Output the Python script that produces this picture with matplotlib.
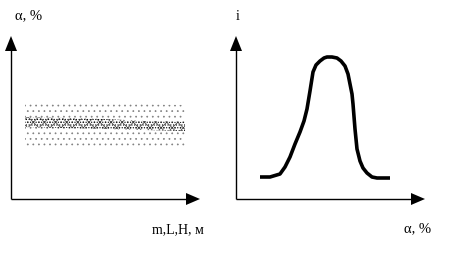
import matplotlib
matplotlib.use("Agg")
import matplotlib.pyplot as plt

plt.rcParams['font.family'] = ['Liberation Serif', 'DejaVu Serif']
plt.rcParams['hatch.linewidth'] = 0.5

# Left panel: scatter band of alpha vs m,L,H (schematic)
band_x = [14, 54, 94, 134, 174]
band_low = [52, 52, 53, 53, 53]
band_high = [96, 96, 95, 95, 94]
core_low = [72, 71, 70, 69, 68]
core_high = [82, 81, 80, 78, 77]

# Right panel: distribution curve i(alpha)
curve_x = [24, 34, 44, 49, 54, 59, 64, 68, 71, 74, 77, 80, 84, 88, 91, 96, 101, 105, 109, 112, 114, 116, 117, 119, 121, 124, 127, 131, 136, 141, 154]
curve_y = [22, 22, 25, 32, 42, 55, 67, 78, 90, 108, 127, 134, 138, 141, 142, 142, 141, 138, 133, 125, 115, 105, 95, 70, 50, 38, 31, 26, 22, 21, 21]

left_label = "α, %"
left_xlabel = "m,L,H, м"
right_label = "i"
right_xlabel = "α, %"

fig = plt.figure(figsize=(4.53, 2.55), dpi=100)

def make_axes(x0, xmax):
    W, H = 453, 255
    ax = fig.add_axes([x0 / W, (H - 200) / H, xmax / W, 175 / H])
    ax.set_xlim(0, xmax)
    ax.set_ylim(0, 175)
    ax.axis('off')
    return ax

def draw_axes_arrows(ax, xtip, ytip):
    ax.plot([0, xtip - 12], [0, 0], color='black', lw=1.0, solid_capstyle='butt', clip_on=False)
    ax.plot([0, 0], [0, ytip - 12], color='black', lw=1.0, solid_capstyle='butt', clip_on=False)
    ax.fill([xtip - 14, xtip, xtip - 14], [-6, 0, 6], color='black', lw=0, clip_on=False)
    ax.fill([-6, 0, 6], [ytip - 15, ytip, ytip - 15], color='black', lw=0, clip_on=False)

axL = make_axes(11, 200)
draw_axes_arrows(axL, 189, 163)
axL.fill_between(band_x, band_low, band_high, facecolor='none', edgecolor='0.5',
                 hatch='...', linewidth=0)
axL.fill_between(band_x, core_low, core_high, facecolor='none', edgecolor='black',
                 hatch='......', linewidth=0)
axL.fill_between(band_x, core_low, core_high, facecolor='none', edgecolor='0.2',
                 hatch='xxx', linewidth=0)

axR = make_axes(236, 200)
draw_axes_arrows(axR, 189, 163)
axR.plot(curve_x, curve_y, color='black', lw=2.6, solid_joinstyle='round',
         solid_capstyle='butt')

fig.text(15 / 453, 1 - 16 / 255, left_label, fontsize=10.5, va='center', ha='left')
fig.text(152 / 453, 1 - 230 / 255, left_xlabel, fontsize=10, va='center', ha='left')
fig.text(238 / 453, 1 - 16 / 255, right_label, fontsize=10, va='center', ha='center')
fig.text(404 / 453, 1 - 229 / 255, right_xlabel, fontsize=10.5, va='center', ha='left')

fig.savefig("out.png", dpi=100)
